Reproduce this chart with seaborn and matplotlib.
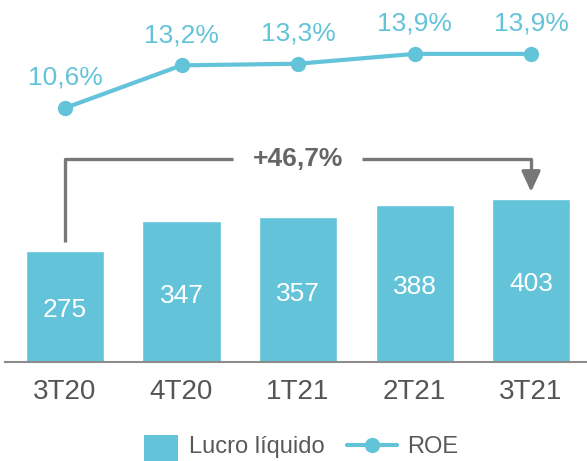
import pandas as pd
import matplotlib.pyplot as plt
from matplotlib.patches import Patch, Rectangle
from matplotlib.lines import Line2D
from matplotlib.legend_handler import HandlerPatch
import seaborn as sns

# dados
trimestres = ['3T20', '4T20', '1T21', '2T21', '3T21']
lucro = [275, 347, 357, 388, 403]
roe = [10.6, 13.2, 13.3, 13.9, 13.9]
roe_labels = ['10,6%', '13,2%', '13,3%', '13,9%', '13,9%']
variacao = '+46,7%'

df = pd.DataFrame({'Trimestre': trimestres, 'Lucro': lucro, 'ROE': roe})

sns.set_theme(style="white")
plt.rcParams['font.family'] = ['Liberation Sans', 'DejaVu Sans']

cor = '#63c3d9'
cinza = '#777777'

fig = plt.figure(figsize=(5.87, 4.61), dpi=100)
W, H = 587, 461

# eixo das barras
ax1 = fig.add_axes([5 / W, (H - 362) / H, 582 / W, 215 / H])
sns.barplot(x='Trimestre', y='Lucro', data=df, color=cor, width=0.67,
            saturation=1, ax=ax1)
ax1.set_xlim(-0.515, 4.48)
ax1.set_ylim(0, 215 / 0.405)
ax1.set_xlabel('')
ax1.set_ylabel('')
ax1.set_yticks([])
for s in ['top', 'right', 'left']:
    ax1.spines[s].set_visible(False)
ax1.spines['bottom'].set_color('#8c8c8c')
ax1.spines['bottom'].set_linewidth(1.5)
ax1.tick_params(axis='x', length=0, labelsize=20, labelcolor='#555555', pad=12)

for i, v in enumerate(lucro):
    ax1.text(i, v / 2 - 10, str(v), ha='center', va='center', color='white', fontsize=19)

# seta de variação
y_top = 502
ax1.plot([0, 0, 1.44], [296, y_top, y_top], color=cinza, lw=2.4, solid_capstyle='butt')
ax1.plot([2.55, 4, 4], [y_top, y_top, 455], color=cinza, lw=2.4, solid_capstyle='butt')
ax1.annotate('', xy=(4, 420), xytext=(4, 463),
             arrowprops=dict(arrowstyle='-|>,head_width=0.3,head_length=0.65',
                             mutation_scale=19, shrinkA=0, shrinkB=0,
                             color=cinza, lw=2.4))
ax1.text(2, y_top, variacao, ha='center', va='center', fontsize=19,
         fontweight='bold', color='#666666')

# eixo do ROE
ax2 = fig.add_axes([5 / W, (H - 140) / H, 582 / W, 140 / H])
sns.lineplot(x='Trimestre', y='ROE', data=df, color=cor, marker='o', markersize=11,
             markeredgewidth=0, linewidth=3, ax=ax2)
ax2.set_xlim(-0.515, 4.48)
ax2.set_ylim(10.6 - 32 / 16.4, 10.6 + 108 / 16.4)
ax2.axis('off')
for i, (v, t) in enumerate(zip(roe, roe_labels)):
    ax2.annotate(t, (i, v), xytext=(0, 13), textcoords='offset points',
                 ha='center', va='bottom', color=cor, fontsize=19)


# legenda
class HandlerRetangulo(HandlerPatch):
    def create_artists(self, legend, orig_handle, xdescent, ydescent,
                       width, height, fontsize, trans):
        w = 25
        h = 19
        r = Rectangle((-xdescent + width - w, -ydescent + height / 2 - h / 2 - 2), w, h,
                      facecolor=orig_handle.get_facecolor(), edgecolor='none',
                      transform=trans)
        return [r]


p_lucro = Patch(facecolor=cor, edgecolor='none', label='Lucro líquido')
l_roe = Line2D([0], [0], color=cor, lw=3, marker='o', markersize=11,
               markeredgewidth=0, label='ROE')
fig.legend(handles=[p_lucro, l_roe], loc='lower center', bbox_to_anchor=(0.5, -0.04),
           ncol=2, frameon=False, fontsize=17, labelcolor='#595959', handlelength=2.1,
           columnspacing=0.95, handletextpad=0.45,
           handler_map={Patch: HandlerRetangulo()})

plt.savefig('out.png', dpi=100)
